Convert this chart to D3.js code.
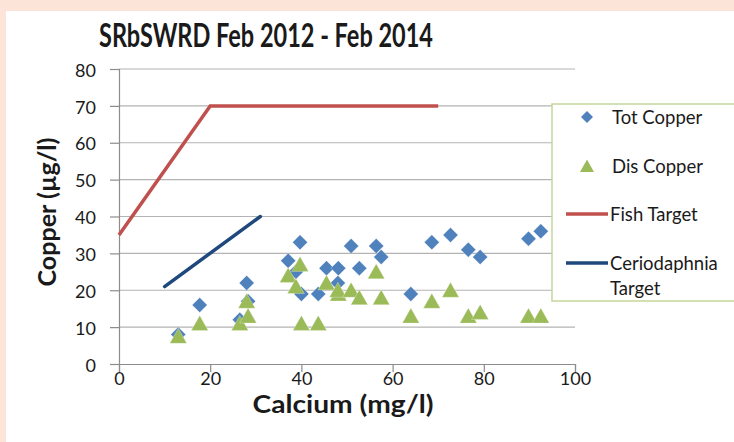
<!DOCTYPE html>
<html>
<head>
<meta charset="utf-8">
<script src="https://cdn.jsdelivr.net/npm/d3@7"></script>
<style>
  body { margin: 0; background: #fce4d8; }
  svg { display: block; }
  text { font-family: Lato, "Open Sans", sans-serif; fill: #1a1a1a; }
</style>
</head>
<body>
<div id="chart"></div>
<script>
// sample data
const calcium = [13, 17.7, 26.5, 28, 28.3, 37.1, 39.7, 38.8, 40, 43.7, 45.5, 48.1, 48, 50.9, 52.7, 56.4, 57.5, 64, 68.6, 72.7, 76.6, 79.2, 89.8, 92.5];
const totCopper = [8, 16, 12, 22, 17, 28, 33, 25, 19, 19, 26, 26, 22, 32, 26, 32, 29, 19, 33, 35, 31, 29, 34, 36];
const disCopper = [7.5, 11, 11, 17, 13, 24, 27, 21, 11, 11, 22, 19, 20, 20, 18, 25, 18, 13, 17, 20, 13, 14, 13, 13];

const fishTarget = [[0, 35], [20, 70], [70, 70]];
const ceriodaphniaTarget = [[10, 21], [31, 40]];

const xTicks = [0, 20, 40, 60, 80, 100];
const yTicks = [0, 10, 20, 30, 40, 50, 60, 70, 80];

const colors = { tot: "#4f81bd", dis: "#9bbb59", fish: "#c0504d", cerio: "#1f497d" };

const width = 734, height = 442;

const svg = d3.select("#chart")
  .append("svg")
  .attr("width", width)
  .attr("height", height);

// white chart panel over the pink page
svg.append("rect")
  .attr("x", 6).attr("y", 11)
  .attr("width", width - 6).attr("height", height - 11)
  .attr("fill", "#fff");

const x = d3.scaleLinear().domain([0, 100]).range([119, 575]);
const y = d3.scaleLinear().domain([0, 80]).range([364, 69]);

// gridlines
svg.append("g")
  .selectAll("line")
  .data(yTicks.filter((d) => d > 0))
  .enter()
  .append("line")
  .attr("x1", x(0)).attr("x2", x(100))
  .attr("y1", (d) => y(d)).attr("y2", (d) => y(d))
  .attr("stroke", "#b3b3b3")
  .attr("stroke-width", 1.2);

// axes
const yAxis = svg.append("g")
  .attr("transform", `translate(${x(0)},0)`)
  .call(d3.axisLeft(y).tickValues(yTicks).tickSize(9).tickPadding(14));
const xAxis = svg.append("g")
  .attr("transform", `translate(0,${y(0)})`)
  .call(d3.axisBottom(x).tickValues(xTicks).tickSize(8).tickPadding(0));

[xAxis, yAxis].forEach((ax) => {
  ax.select(".domain").attr("stroke", "#8c8c8c").attr("stroke-width", 1.2);
  ax.selectAll(".tick line").attr("stroke", "#8c8c8c").attr("stroke-width", 1.2);
  ax.selectAll(".tick text")
    .attr("font-family", "Lato, sans-serif")
    .attr("font-size", 18)
    .attr("fill", "#1a1a1a");
});
yAxis.selectAll(".tick text").attr("dy", "0.4em");
xAxis.selectAll(".tick text").attr("dy", "0.71em");

// target lines
const line = d3.line().x((d) => x(d[0])).y((d) => y(d[1]));

svg.append("path")
  .datum(fishTarget)
  .attr("d", line)
  .attr("fill", "none")
  .attr("stroke", colors.fish)
  .attr("stroke-width", 3.5);

svg.append("path")
  .datum(ceriodaphniaTarget)
  .attr("d", line)
  .attr("fill", "none")
  .attr("stroke", colors.cerio)
  .attr("stroke-width", 3.5)
  .attr("stroke-linecap", "round");

// markers
const diamond = "M0,-7.5L7.5,0L0,7.5L-7.5,0Z";
const triangle = "M0,-8L8.5,7L-8.5,7Z";

svg.append("g")
  .selectAll("path")
  .data(calcium.map((c, i) => [c, totCopper[i]]))
  .enter()
  .append("path")
  .attr("d", diamond)
  .attr("transform", (d) => `translate(${x(d[0])},${y(d[1])})`)
  .attr("fill", colors.tot)
  .attr("stroke", "#fff")
  .attr("stroke-opacity", 0.35)
  .attr("stroke-width", 0.8);

svg.append("g")
  .selectAll("path")
  .data(calcium.map((c, i) => [c, disCopper[i]]))
  .enter()
  .append("path")
  .attr("d", triangle)
  .attr("transform", (d) => `translate(${x(d[0])},${y(d[1])})`)
  .attr("fill", colors.dis)
  .attr("stroke", "#fff")
  .attr("stroke-opacity", 0.35)
  .attr("stroke-width", 0.8);

// titles
svg.append("text")
  .attr("x", 266).attr("y", 47)
  .attr("text-anchor", "middle")
  .attr("font-size", 32)
  .attr("font-weight", "bold")
  .attr("textLength", 334)
  .attr("lengthAdjust", "spacingAndGlyphs")
  .text("SRbSWRD Feb 2012 - Feb 2014");

svg.append("text")
  .attr("x", 343).attr("y", 413)
  .attr("text-anchor", "middle")
  .attr("font-size", 24)
  .attr("font-weight", "bold")
  .attr("textLength", 181)
  .attr("lengthAdjust", "spacingAndGlyphs")
  .text("Calcium (mg/l)");

svg.append("text")
  .attr("transform", "translate(56,212) rotate(-90)")
  .attr("text-anchor", "middle")
  .attr("font-size", 25)
  .attr("font-weight", "bold")
  .attr("textLength", 149)
  .attr("lengthAdjust", "spacingAndGlyphs")
  .text("Copper (µg/l)");

// legend
const legend = svg.append("g");
legend.append("rect")
  .attr("x", 552).attr("y", 104)
  .attr("width", 200).attr("height", 197)
  .attr("fill", "#fff")
  .attr("stroke", "#c3d69b")
  .attr("stroke-width", 1.5);

const legendItems = [
  { label: ["Tot Copper"], type: "diamond", color: colors.tot, y: 117 },
  { label: ["Dis Copper"], type: "triangle", color: colors.dis, y: 166 },
  { label: ["Fish Target"], type: "line", color: colors.fish, y: 214 },
  { label: ["Ceriodaphnia", "Target"], type: "line", color: colors.cerio, y: 263 },
];

legendItems.forEach((d) => {
  if (d.type === "line") {
    legend.append("line")
      .attr("x1", 566).attr("x2", 608)
      .attr("y1", d.y).attr("y2", d.y)
      .attr("stroke", d.color)
      .attr("stroke-width", 3.5);
  } else {
    legend.append("path")
      .attr("d", d.type === "diamond" ? "M0,-6L6,0L0,6L-6,0Z" : "M0,-6.5L7,6L-7,6Z")
      .attr("transform", `translate(587,${d.y})`)
      .attr("fill", d.color);
  }
  d.label.forEach((t, i) => {
    legend.append("text")
      .attr("x", d.type === "line" ? 610 : 612)
      .attr("y", d.y + i * 25)
      .attr("dy", "0.36em")
      .attr("font-size", 18.5)
      .text(t);
  });
});
</script>
</body>
</html>
